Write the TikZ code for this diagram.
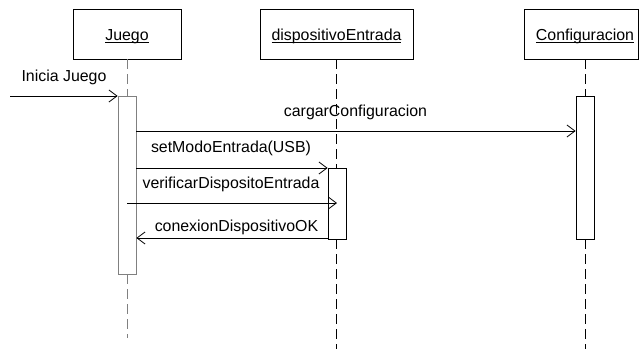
\documentclass[tikz,border=0pt]{standalone}
\usepackage{fontspec}
\setmainfont{Liberation Sans}
\usetikzlibrary{arrows.meta}
\newcommand\myul[1]{\setbox0\hbox{#1}\rlap{\rule[-2.6pt]{\wd0}{0.8pt}}\box0}
\begin{document}
\begin{tikzpicture}[x=1pt,y=-1pt,
  font=\fontsize{15.9}{19}\selectfont,
  objbox/.style={draw=black,line width=0.8pt,minimum width=#1,minimum height=50pt,inner sep=0pt},
  actbox/.style={draw=black,fill=white,line width=0.8pt,minimum width=18pt,minimum height=#1,inner sep=0pt},
  life/.style={line width=0.8pt,dash pattern=on 10pt off 5pt},
  msg/.style={line width=0.8pt,-{Straight Barb[length=8pt,width=12pt,line width=0.8pt]}},
  lbl/.style={anchor=base,inner sep=0pt}]
\useasboundingbox (0,0) rectangle (639,349);
% object boxes
\node[objbox=108pt] (juego) at (127,34) {};
\node[lbl] (juegot) at (127,40) {\myul{Juego}};
\node[objbox=153pt] (disp) at (336.5,34) {};
\node[lbl] (dispt) at (336.5,40) {\myul{dispositivoEntrada}};
\draw[line width=0.8pt] (524,9) rectangle (638,59);
\node[lbl] (conft) at (585,40) {\myul{Configuracion}};
\coordinate (confbot) at (585,59);
% lifelines
\coordinate (jend) at (127,338);
\coordinate (dend) at (336.5,349);
\coordinate (cend) at (585,349);
\node[actbox=178pt,draw=gray] (jact) at (127,185) {};
\node[actbox=143pt] (cact) at (585,167.5) {};
\draw[life,gray] (juego.south) -- (jact.north);
\draw[life,gray] (jact.south) -- (jend);
\draw[life] (disp.south) -- (dend);
\draw[life] (confbot) -- (cact.north);
\draw[life] (cact.south) -- (cend);
\node[actbox=71pt] (dact) at (337,203.5) {};
% messages
\coordinate (start) at (10,96);
\draw[msg] (start) -- (start -| jact.west);
\node[lbl] (l1) at (64,81) {Inicia Juego};
\coordinate (m2) at (136,131);
\draw[msg] (m2) -- (m2 -| cact.west);
\node[lbl] (l2) at (355.5,116.5) {cargarConfiguracion};
\coordinate (m3) at (136,168);
\draw[msg] (m3) -- (m3 -| dact.west);
\node[lbl] (l3) at (231,152) {setModoEntrada(USB)};
\coordinate (m4) at (127,203);
\draw[msg] (m4) -- (m4 -| dact.center);
\node[lbl] (l4) at (231,188) {verificarDispositoEntrada};
\coordinate (m5) at (328,238);
\draw[msg] (m5) -- (m5 -| jact.east);
\node[lbl] (l5) at (236.5,231.5) {conexionDispositivoOK};
\end{tikzpicture}
\end{document}
